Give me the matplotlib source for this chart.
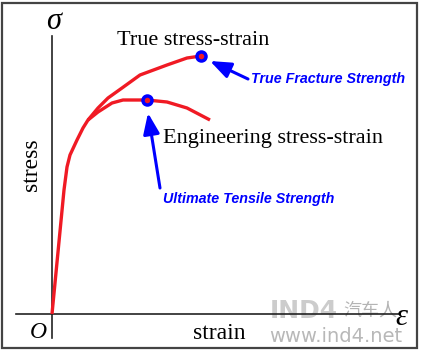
import matplotlib
matplotlib.use("Agg")
import matplotlib.pyplot as plt
from matplotlib.patches import Rectangle

# ---- data (arbitrary units: strain, stress) ----
shared_strain = [0, 12, 15, 18, 25, 31, 36]
shared_stress = [0, 124, 147, 159, 174, 186, 194]
true_strain = [36, 46, 56, 70, 88, 115, 135, 149]
true_stress = [194, 206, 216, 226, 239, 249, 256, 258]
eng_strain = [36, 46, 60, 71, 95, 115, 135, 158]
eng_stress = [194, 202, 211, 214, 214, 212, 206, 194]
fracture_pt = (149, 258)
uts_pt = (95, 214)

RED = '#f01a24'
BLUE = '#0000ff'
SERIF = ['Liberation Serif', 'DejaVu Serif']
SANS = ['Liberation Sans', 'DejaVu Sans']

fig = plt.figure(figsize=(4.21, 3.52), dpi=100)
ax = fig.add_axes([0, 0, 1, 1])
ax.set_xlim(-52, 369)
ax.set_ylim(-38, 314)
ax.set_xticks([]); ax.set_yticks([])
for s in ['top', 'right']:
    ax.spines[s].set_visible(False)
ax.spines['left'].set_position(('data', 0))
ax.spines['bottom'].set_position(('data', 0))
ax.spines['left'].set_bounds(-24, 278)
ax.spines['bottom'].set_bounds(-36, 348)
for s in ['left', 'bottom']:
    ax.spines[s].set_linewidth(1.2)
    ax.spines[s].set_color('#222222')
    ax.spines[s].set_zorder(2)
ax.patch.set_alpha(0)

fig.patches.append(Rectangle((2/421, 4/352), 415/421, 345/352, transform=fig.transFigure,
                             fill=False, edgecolor='#444444', lw=1.6))

# curves
ax.plot(shared_strain + true_strain[1:], shared_stress + true_stress[1:], color=RED, lw=2.4,
        solid_capstyle='butt', solid_joinstyle='round', zorder=3)
ax.plot(eng_strain, eng_stress, color=RED, lw=2.4, solid_capstyle='butt',
        solid_joinstyle='round', zorder=3)
for p in (fracture_pt, uts_pt):
    ax.plot(*p, 'o', ms=6.5, mfc=RED, mec=BLUE, mew=2.5, zorder=4)

# arrows
ap = dict(arrowstyle='-|>,head_length=0.9,head_width=0.35', color=BLUE, lw=2.2,
          shrinkA=0, shrinkB=0, mutation_scale=14)
ax.annotate('', xy=(158, 253), xytext=(196, 235), arrowprops=ap)
ax.annotate('', xy=(96, 201), xytext=(108, 126), arrowprops=ap)

ax.text(199, 235, 'True Fracture Strength', color=BLUE, fontsize=10.3, fontweight='bold',
        fontstyle='italic', family=SANS, ha='left', va='center')
ax.text(111, 115, 'Ultimate Tensile Strength', color=BLUE, fontsize=10.3, fontweight='bold',
        fontstyle='italic', family=SANS, ha='left', va='center')

ax.text(141, 269, 'True stress-strain', fontsize=16, family=SERIF, ha='center', va='baseline')
ax.text(111, 171, 'Engineering stress-strain', fontsize=16, family=SERIF, ha='left', va='baseline')
ax.text(-21, 149, 'stress', fontsize=17, family=SERIF, rotation=90, ha='center', va='center')
ax.text(167, -25, 'strain', fontsize=17, family=SERIF, ha='center', va='baseline')
ax.text(-14, -24, 'O', fontsize=17, family=SERIF, fontstyle='italic', ha='center', va='baseline')
ax.text(2, 285, 'σ', fontsize=22, family=SERIF, fontstyle='italic', ha='center', va='baseline')
ax.text(349, -11, 'ε', fontsize=22, family=SERIF, fontstyle='italic', ha='center', va='baseline')

# watermark
ax.text(218, -4, 'IND4', fontsize=18, family=['DejaVu Sans'], fontweight='bold', color='#cccccc',
        ha='left', va='baseline', zorder=0)
ax.text(291, -2, '汽车人', fontsize=13, family=['Noto Sans CJK SC'], color='#b4b4b4',
        ha='left', va='baseline', zorder=0)
ax.text(284, -28, 'www.ind4.net', fontsize=14, family=['DejaVu Sans'], color='#b8b8b8',
        ha='center', va='baseline', zorder=0)

fig.savefig('out.png', dpi=100)
